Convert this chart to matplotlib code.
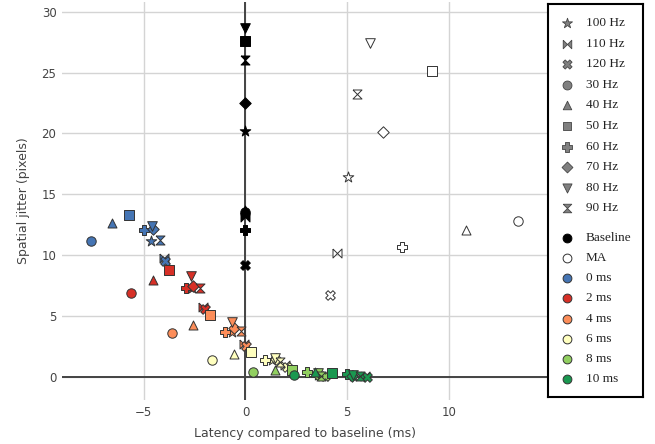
import matplotlib
matplotlib.use("Agg")
import matplotlib.pyplot as plt
import numpy as np

# ---------------- data ----------------
freqs = ['100 Hz', '110 Hz', '120 Hz', '30 Hz', '40 Hz', '50 Hz', '60 Hz', '70 Hz', '80 Hz', '90 Hz']

baseline_x = [0, 0, 0, 0, 0, 0, 0, 0, 0, 0]
baseline_y = [20.2, 13.1, 9.2, 13.55, 13.75, 27.6, 12.1, 22.5, 28.7, 26.05]

ma_x = [5.02, 4.48, 4.15, 13.4, 10.84, 9.15, 7.68, 6.77, 6.12, 5.46]
ma_y = [16.46, 10.21, 6.76, 12.84, 12.08, 25.14, 10.68, 20.1, 27.44, 23.23]

ms0_x = [-4.66, -4.02, -3.95, -7.6, -6.55, -5.72, -4.97, -4.53, -4.6, -4.2]
ms0_y = [11.2, 9.8, 9.55, 11.2, 12.65, 13.3, 12.08, 12.16, 12.43, 11.28]

ms2_x = [-2.62, -2.07, -1.99, -5.63, -4.53, -3.77, -2.94, -2.56, -2.68, -2.24]
ms2_y = [7.29, 5.75, 5.55, 6.88, 8.0, 8.8, 7.29, 7.5, 8.3, 7.29]

ms4_x = [-0.65, -0.05, 0.02, -3.63, -2.57, -1.74, -1.0, -0.55, -0.65, -0.22]
ms4_y = [3.72, 2.7, 2.55, 3.59, 4.27, 5.1, 3.72, 4.0, 4.55, 3.78]

ms6_x = [1.3, 1.94, 2.02, -1.63, -0.57, 0.26, 0.98, 1.5, 1.45, 1.7]
ms6_y = [1.4, 0.95, 0.8, 1.4, 1.89, 2.03, 1.4, 1.45, 1.6, 1.26]

ms8_x = [3.55, 3.82, 3.9, 0.35, 1.45, 2.27, 3.0, 3.5, 3.55, 3.72]
ms8_y = [0.2, 0.08, 0.05, 0.38, 0.57, 0.57, 0.44, 0.25, 0.3, 0.12]

ms10_x = [5.3, 5.85, 5.97, 2.38, 3.4, 4.24, 4.97, 5.25, 5.3, 5.62]
ms10_y = [0.1, 0.05, 0.02, 0.16, 0.45, 0.3, 0.22, 0.12, 0.15, 0.08]

conditions = ['Baseline', 'MA', '0 ms', '2 ms', '4 ms', '6 ms', '8 ms', '10 ms']
cond_x = [baseline_x, ma_x, ms0_x, ms2_x, ms4_x, ms6_x, ms8_x, ms10_x]
cond_y = [baseline_y, ma_y, ms0_y, ms2_y, ms4_y, ms6_y, ms8_y, ms10_y]
cond_colors = ['#000000', '#ffffff', '#4575b4', '#d73027', '#fc8d59', '#ffffbf', '#91cf60', '#1a9850']
cond_edges = ['#000000', '#333333', '#333333', '#333333', '#333333', '#333333', '#333333', '#333333']

# ---------------- markers ----------------
bowtie = [(-1, 1), (1, -1), (1, 1), (-1, -1), (-1, 1)]
hourglass = [(-1, 1), (1, 1), (-1, -1), (1, -1), (-1, 1)]
freq_markers = ['*', bowtie, 'X', 'o', '^', 's', 'P', 'D', 'v', hourglass]
freq_sizes = [64, 42, 48, 46, 42, 42, 52, 34, 48, 42]

W, H = 655, 444
fig = plt.figure(figsize=(W / 100, H / 100), dpi=100)

# main axes
left, right, top, bottom = 62, 548, 2, 400
ax = fig.add_axes([left / W, 1 - bottom / H, (right - left) / W, (bottom - top) / H])
ax.set_xlim(-9.02, 14.87)
ax.set_ylim(-1.89, 30.8)
for s in ax.spines.values():
    s.set_visible(False)
ax.set_xticks([-5, 0, 5, 10])
ax.set_xticklabels(['\u22125', '0', '5', '10'])
ax.set_yticks([0, 5, 10, 15, 20, 25, 30])
ax.grid(True, color='#d4d4d4', lw=1.0)
ax.set_axisbelow(True)
ax.tick_params(length=0, labelsize=8.5, labelcolor='#444444', pad=4)
ax.axhline(0, color='#444444', lw=1.4, zorder=1)
ax.axvline(0, color='#444444', lw=1.4, zorder=1)
ax.set_xlabel('Latency compared to baseline (ms)', fontsize=9, color='#444444', labelpad=6)
ax.set_ylabel('Spatial jitter (pixels)', fontsize=9, color='#444444', labelpad=8)

z = 3
for ci in range(len(conditions)):
    for fi in range(len(freqs)):
        ax.scatter([cond_x[ci][fi]], [cond_y[ci][fi]], marker=freq_markers[fi], s=freq_sizes[fi],
                   facecolor=cond_colors[ci], edgecolor=cond_edges[ci], linewidths=0.7, zorder=z)
        z += 0.01

# legend axes (pixel coordinates)
lx0, lx1, ly0, ly1 = 548, 643, 4, 397
lax = fig.add_axes([lx0 / W, 1 - ly1 / H, (lx1 - lx0) / W, (ly1 - ly0) / H])
lax.set_xlim(0, lx1 - lx0)
lax.set_ylim(ly1 - ly0, 0)
lax.set_xticks([])
lax.set_yticks([])
for s in lax.spines.values():
    s.set_color('black')
    s.set_linewidth(1.5)

rows_top = [23 + 20.6 * i for i in range(10)]
rows_bot = [238 + 20.15 * i for i in range(8)]
mx = 566.5 - lx0
tx = 586 - lx0
for i, name in enumerate(freqs):
    y = rows_top[i] - ly0
    lax.scatter([mx], [y], marker=freq_markers[i], s=freq_sizes[i] * 0.9, facecolor='#808080',
                edgecolor='#444444', linewidths=0.6)
    lax.text(tx, y, name, family='Liberation Serif', fontsize=9.5, va='center', ha='left', color='#222222')
for i, name in enumerate(conditions):
    y = rows_bot[i] - ly0
    lax.scatter([mx], [y], marker='o', s=40, facecolor=cond_colors[i], edgecolor='#333333' if i else '#000000',
                linewidths=0.7)
    lax.text(tx, y, name, family='Liberation Serif', fontsize=9.5, va='center', ha='left', color='#222222')

fig.savefig('out.png', dpi=100)
